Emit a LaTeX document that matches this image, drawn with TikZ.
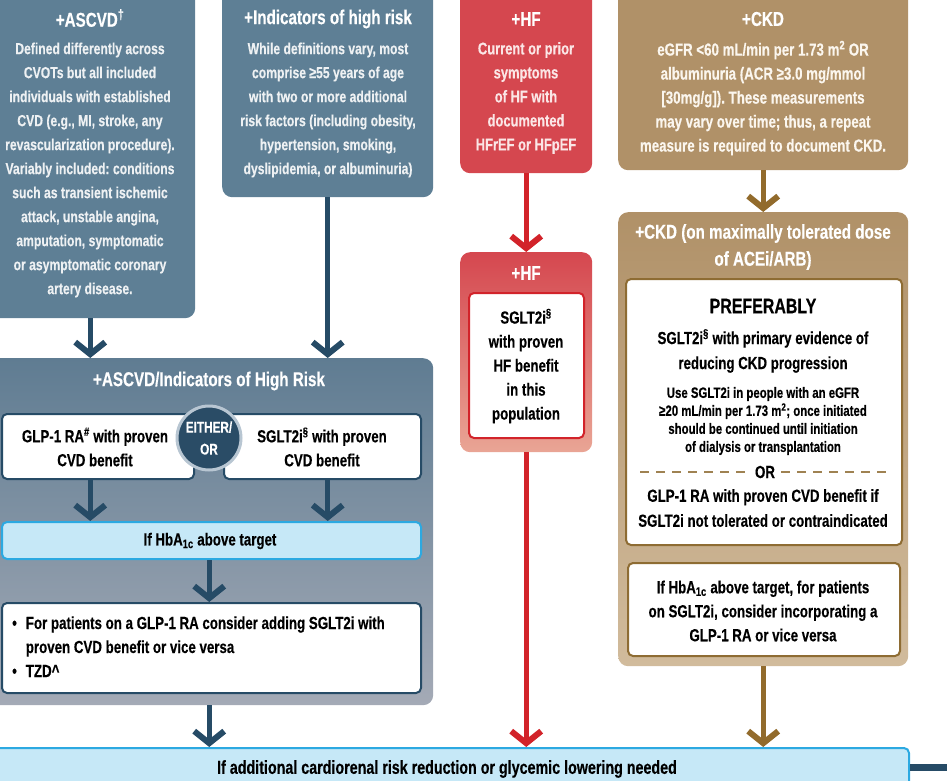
\documentclass[tikz,border=0pt]{standalone}
\usepackage{fontspec}
\setmainfont{Liberation Sans}[FakeStretch=0.76, FakeBold=0.35]
\usetikzlibrary{arrows.meta}
\frenchspacing

\definecolor{bluecard}{HTML}{5E7F95}
\definecolor{bluetop}{HTML}{5F7C92}
\definecolor{bluebot}{HTML}{A4AAB6}
\definecolor{bluedark}{HTML}{264B66}
\definecolor{circfill}{HTML}{2A4C66}
\definecolor{ringcol}{HTML}{B8C6D2}
\definecolor{redcard}{HTML}{D5474F}
\definecolor{redbot}{HTML}{E9A595}
\definecolor{redarrow}{HTML}{D2232A}
\definecolor{browncard}{HTML}{B09168}
\definecolor{brownbot}{HTML}{D1BB9C}
\definecolor{brownarrow}{HTML}{926B2C}
\definecolor{brownline}{HTML}{8E6C33}
\definecolor{paleblue}{HTML}{C6E8F7}
\definecolor{cyanline}{HTML}{2CA9E1}
\definecolor{lighttext}{HTML}{EEF1F3}
\definecolor{pinktext}{HTML}{FBE6E6}
\definecolor{creamtext}{HTML}{FBF6EE}

\tikzset{
  card/.style={rounded corners=10pt, draw=none, anchor=north west, inner sep=0pt},
  wbox/.style={rounded corners=5pt, fill=white, line width=2pt, anchor=north west, inner sep=0pt},
  hbox/.style={rounded corners=5pt, fill=paleblue, draw=cyanline, line width=2pt, anchor=north west, inner sep=0pt},
  ttl/.style={text=white, font=\bfseries\fontsize{20}{27}\selectfont, align=center, inner sep=0pt},
  bodyw/.style={font=\bfseries\fontsize{16}{24}\selectfont, align=center, inner sep=0pt},
  bodyk/.style={text=black, font=\bfseries\fontsize{17.5}{24}\selectfont, align=center, inner sep=0pt},
  arr/.style={line width=5pt, -{Straight Barb[length=12pt, width=30pt, line width=6pt]}},
}

\begin{document}
\begin{tikzpicture}[x=1pt, y=-1pt]
\useasboundingbox (0,0) rectangle (947,781);
\clip (0,0) rectangle (947,781);

% ---------- top row of condition cards ----------
\node[card, fill=bluecard, minimum width=210pt, minimum height=328pt] (ascvd) at (-15,-10) {};
\node[ttl] (ascvdT) at (90,18) {+ASCVD\textsuperscript{†}};
\node[bodyw, text=lighttext] (ascvdB) at (90,170) {Defined differently across\\
CVOTs but all included\\
individuals with established\\
CVD (e.g., MI, stroke, any\\
revascularization procedure).\\
Variably included: conditions\\
such as transient ischemic\\
attack, unstable angina,\\
amputation, symptomatic\\
or asymptomatic coronary\\
artery disease.};

\node[card, fill=bluecard, minimum width=211pt, minimum height=207pt] (risk) at (222,-10) {};
\node[ttl] (riskT) at (328,19) {+Indicators of high risk};
\node[bodyw, text=lighttext] (riskB) at (328,110) {While definitions vary, most\\
comprise ≥55 years of age\\
with two or more additional\\
risk factors (including obesity,\\
hypertension, smoking,\\
dyslipidemia, or albuminuria)};

\node[card, fill=redcard, minimum width=132pt, minimum height=183pt] (hftop) at (460,-10) {};
\node[ttl] (hftopT) at (526,19) {+HF};
\node[bodyw, text=pinktext, font=\bfseries\fontsize{17}{24}\selectfont] (hftopB) at (526,98) {Current or prior\\
symptoms\\
of HF with\\
documented\\
HFrEF or HFpEF};

\node[card, fill=browncard, minimum width=290pt, minimum height=180pt] (ckdtop) at (618,-10) {};
\node[ttl] (ckdtopT) at (763,19) {+CKD};
\node[bodyw, text=creamtext, font=\bfseries\fontsize{17.5}{24}\selectfont] (ckdtopB) at (763,98) {eGFR <60 mL/min per 1.73 m\textsuperscript{2} OR\\
albuminuria (ACR ≥3.0 mg/mmol\\
{[30mg/g]}). These measurements\\
may vary over time; thus, a repeat\\
measure is required to document CKD.};

% ---------- ASCVD / high risk panel ----------
\node[card, top color=bluetop, bottom color=bluebot, minimum width=448pt, minimum height=347pt] (panel) at (-15,358) {};
\node[ttl] (panelT) at (209,381) {+ASCVD/Indicators of High Risk};

\node[wbox, draw=bluedark, minimum width=192pt, minimum height=65pt] (glp) at (1,413) {};
\node[bodyk] (glpT) at (95,447) {GLP-1 RA\textsuperscript{\#} with proven\\CVD benefit};
\node[wbox, draw=bluedark, minimum width=197pt, minimum height=65pt] (sglt) at (223,413) {};
\node[bodyk] (sgltT) at (322,447) {SGLT2i\textsuperscript{§} with proven\\CVD benefit};
\node[circle, minimum size=64pt, fill=circfill, draw=ringcol, line width=3pt, text=white,
      font=\bfseries\fontsize{15.5}{22}\selectfont, align=center, inner sep=0pt] (either) at (209,438) {EITHER/\\OR};

\node[hbox, minimum width=419pt, minimum height=37pt] (hba) at (1,521) {};
\node[bodyk] (hbaT) at (210,541) {If HbA\textsubscript{1c} above target};

\node[wbox, draw=bluedark, minimum width=419pt, minimum height=90pt] (bullets) at (1,602) {};
\node[bodyk, anchor=north west, align=left] (bulletsT) at (12,612) {%
\begin{tabular}{@{}l@{\hspace{9pt}}l@{}}
• & For patients on a GLP-1 RA consider adding SGLT2i with\\
  & proven CVD benefit or vice versa\\
• & TZD\textasciicircum
\end{tabular}};

% ---------- heart failure column ----------
\node[card, top color=redcard, bottom color=redbot, minimum width=132pt, minimum height=200pt] (hfpanel) at (460,252) {};
\node[ttl] (hfpanelT) at (526,273) {+HF};
\node[wbox, draw=redarrow, minimum width=115pt, minimum height=145pt] (hfbox) at (468,292) {};
\node[bodyk] (hfboxT) at (526,366) {SGLT2i\textsuperscript{§}\\with proven\\HF benefit\\in this\\population};

% ---------- CKD column ----------
\node[card, top color=browncard, bottom color=brownbot, minimum width=290pt, minimum height=454pt] (ckdpanel) at (618,212) {};
\node[ttl] (ckdpanelT) at (763,247) {+CKD (on maximally tolerated dose\\of ACEi/ARB)};

\node[wbox, draw=brownline, minimum width=276pt, minimum height=266pt] (ckdbox) at (625,278) {};
\node[bodyk, font=\bfseries\fontsize{21}{24}\selectfont] (pref) at (763,306) {PREFERABLY};
\node[bodyk, font=\bfseries\fontsize{17.5}{25}\selectfont] (prefA) at (763,351) {SGLT2i\textsuperscript{§} with primary evidence of\\reducing CKD progression};
\node[bodyk, font=\bfseries\fontsize{15}{18}\selectfont] (prefB) at (763,421) {Use SGLT2i in people with an eGFR\\
≥20 mL/min per 1.73 m\textsuperscript{2}; once initiated\\
should be continued until initiation\\
of dialysis or transplantation};
\node[bodyk] (orword) at (765,472) {OR};
\coordinate (dashL) at (640,472);
\coordinate (dashR) at (886,472);
\draw[brownline!85, line width=2pt, dash pattern=on 9pt off 7pt] (dashL) -- ([xshift=-6pt]orword.west);
\draw[brownline!85, line width=2pt, dash pattern=on 9pt off 7pt] ([xshift=6pt]orword.east) -- (dashR);
\node[bodyk, font=\bfseries\fontsize{17.5}{25}\selectfont] (prefC) at (763,508) {GLP-1 RA with proven CVD benefit if\\SGLT2i not tolerated or contraindicated};

\node[wbox, draw=brownline, minimum width=272pt, minimum height=93pt] (ckdbox2) at (627,562) {};
\node[bodyk] (ckdbox2T) at (763,611) {If HbA\textsubscript{1c} above target, for patients\\on SGLT2i, consider incorporating a\\GLP-1 RA or vice versa};

% ---------- common next step ----------
\node[hbox, minimum width=923pt, minimum height=70pt] (bar) at (-15,747) {};
\node[bodyk, font=\bfseries\fontsize{18.8}{24}\selectfont] (barT) at (447,769) {If additional cardiorenal risk reduction or glycemic lowering needed};
\coordinate (onward) at (960,767);

% ---------- connectors ----------
\draw[arr, bluedark] (ascvd.south) -- (ascvd.south |- panel.north);
\draw[arr, bluedark] (risk.south) -- (risk.south |- panel.north);
\draw[arr, bluedark] (glp.south -| ascvd.south) -- (hba.north -| ascvd.south);
\draw[arr, bluedark] (sglt.south -| risk.south) -- (hba.north -| risk.south);
\draw[arr, bluedark] (hba.south -| panel.north) -- (bullets.north -| panel.north);
\draw[arr, bluedark] (panel.south) -- (panel.south |- bar.north);

\draw[arr, redarrow] (hftop.south) -- (hfpanel.north);
\draw[arr, redarrow] (hfpanel.south) -- (hfpanel.south |- bar.north);

\draw[arr, brownarrow] (ckdtop.south) -- (ckdpanel.north);
\draw[arr, brownarrow] (ckdpanel.south) -- (ckdpanel.south |- bar.north);

\draw[bluedark, line width=7pt] (onward -| bar.east) -- (onward);
\end{tikzpicture}
\end{document}
